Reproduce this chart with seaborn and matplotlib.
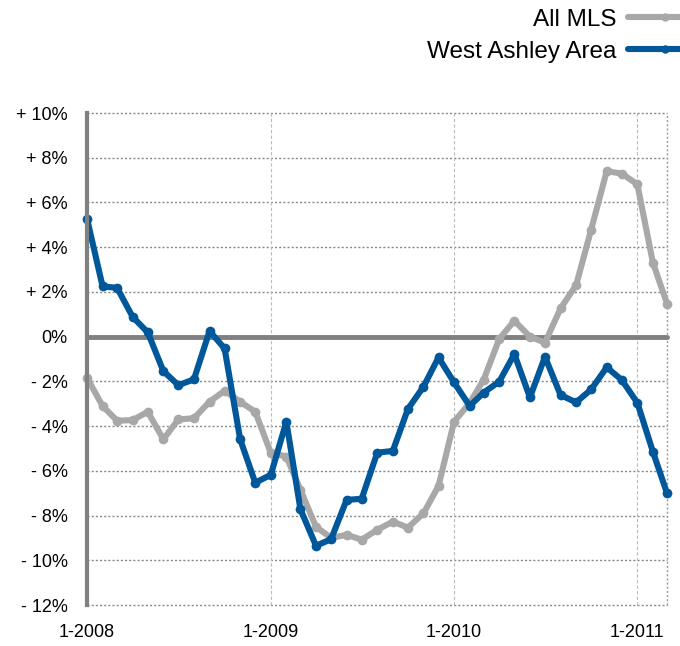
import pandas as pd
import numpy as np
import seaborn as sns
import matplotlib.pyplot as plt

# monthly change, Jan 2008 .. Mar 2011
months = pd.date_range("2008-01-01", "2011-03-01", freq="MS")
all_mls = [-1.84, -3.1, -3.76, -3.73, -3.36, -4.59, -3.7, -3.65, -2.91, -2.42,
           -2.91, -3.36, -5.2, -5.36, -6.85, -8.5, -9.0, -8.86, -9.08, -8.64,
           -8.27, -8.54, -7.9, -6.68, -3.8, -2.97, -1.92, -0.1, 0.71, 0.0,
           -0.27, 1.26, 2.3, 4.79, 7.4, 7.29, 6.81, 3.3, 1.48]
west_ashley = [5.28, 2.25, 2.18, 0.88, 0.19, -1.54, -2.17, -1.91, 0.25, -0.53,
               -4.59, -6.53, -6.18, -3.8, -7.72, -9.35, -9.06, -7.3, -7.25, -5.19,
               -5.11, -3.24, -2.24, -0.93, -2.05, -3.1, -2.5, -2.01, -0.78, -2.72,
               -0.9, -2.61, -2.94, -2.36, -1.37, -1.94, -2.96, -5.15, -7.0]
series_names = ["All MLS", "West Ashley Area"]
y_ticks = [10, 8, 6, 4, 2, 0, -2, -4, -6, -8, -10, -12]
y_labels = ["+ 10%", "+ 8%", "+ 6%", "+ 4%", "+ 2%", "0%",
            "- 2%", "- 4%", "- 6%", "- 8%", "- 10%", "- 12%"]
x_ticks = pd.to_datetime(["2008-01-01", "2009-01-01", "2010-01-01", "2011-01-01"])
x_labels = ["1-2008", "1-2009", "1-2010", "1-2011"]

df = pd.DataFrame({
    "Month": list(months) * 2,
    "Change": all_mls + west_ashley,
    "Series": [series_names[0]] * len(months) + [series_names[1]] * len(months),
})

sns.set_style("white")
plt.rcParams["font.family"] = ["Liberation Sans", "DejaVu Sans"]
plt.rcParams["text.color"] = "black"

fig = plt.figure(figsize=(6.8, 6.46), dpi=100)
ax = fig.add_axes([87 / 680, 1 - 605 / 646, 580 / 680, 492 / 646])

# grid first so the lines sit on top
for t in y_ticks:
    if t != 0:
        ax.axhline(t, color="#888888", lw=1.0, ls=(0, (1.5, 1.5)), zorder=1)
for t in x_ticks[1:]:
    ax.axvline(t, color="#bbbbbb", lw=0.8, ls=(0, (3, 2)), zorder=1)
ax.axvline(months[-1], color="#999999", lw=1.0, ls=(0, (1.5, 1.5)), zorder=1)
ax.axhline(0, color="#808080", lw=3.5, zorder=2)

sns.lineplot(data=df, x="Month", y="Change", hue="Series",
             palette={"All MLS": "#a8a8a8", "West Ashley Area": "#00579a"},
             marker="o", markersize=7, markeredgewidth=0, linewidth=4.4,
             ax=ax, zorder=3)
for ln in ax.get_lines():
    ln.set_clip_on(False)

ax.set_xlim(months[0], months[-1])
ax.set_ylim(-12, 10)
ax.set_yticks(y_ticks)
ax.set_yticklabels(y_labels)
ax.set_xticks(x_ticks)
ax.set_xticklabels(x_labels)
ax.set_xlabel("")
ax.set_ylabel("")
ax.tick_params(axis="y", length=5, width=2, color="#808080", labelsize=13,
               labelcolor="black", pad=9)
ax.tick_params(axis="x", length=0, labelsize=13, labelcolor="black", pad=14)
for s in ["top", "right", "bottom"]:
    ax.spines[s].set_visible(False)
ax.spines["left"].set_color("#808080")
ax.spines["left"].set_linewidth(3)
ax.spines["left"].set_zorder(4)

handles, labels = ax.get_legend_handles_labels()
leg = ax.legend(handles, labels, loc="upper right", bbox_to_anchor=(1.035, 0.99),
                bbox_transform=fig.transFigure, frameon=False, markerfirst=False,
                fontsize=17.5, handlelength=3.0, labelspacing=0.4, borderaxespad=0.0,
                borderpad=0.1, handletextpad=0.5)
for h in leg.get_lines():
    h.set_markersize(6)

plt.savefig("out.png", dpi=100)
